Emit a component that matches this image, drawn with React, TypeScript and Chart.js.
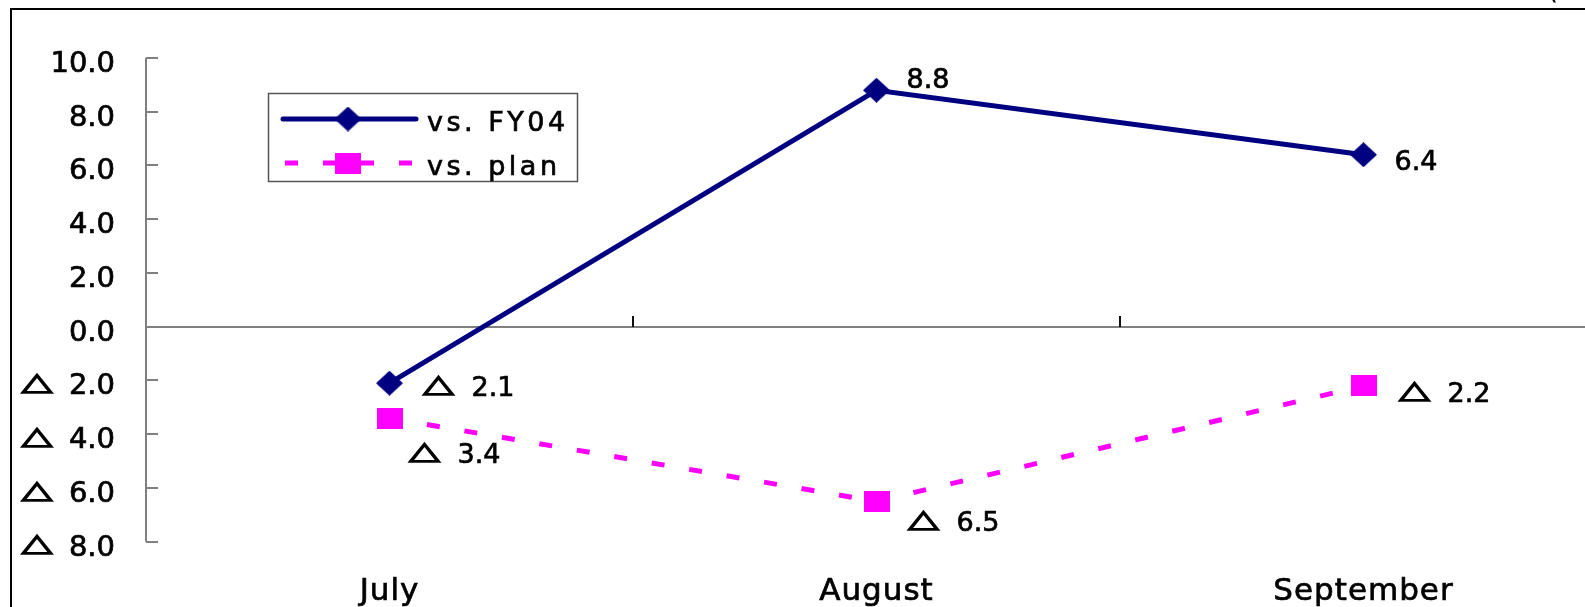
import React, { useEffect, useRef } from 'react';
import { Chart, registerables } from 'chart.js';

Chart.register(...registerables);

// ---- data ----
const months = ['July', 'August', 'September'];
const vsFY04 = [-2.1, 8.8, 6.4];
const vsPlan = [-3.4, -6.5, -2.2];
const seriesNames = ['vs. FY04', 'vs. plan'];
const yTickValues = [10, 8, 6, 4, 2, 0, -2, -4, -6, -8];
const unitLabel = '(%)';

// ---- styling ----
const NAVY = '#000080';
const MAGENTA = '#FF00FF';
const AXIS_GRAY = '#808080';
const FONT = '"DejaVu Sans", "Liberation Sans", sans-serif';
const DASH = [13, 25];
const TEXT_WEIGHT = 0.7; // extra outline width to give text a heavier look

const CANVAS_W = 1640;
const CANVAS_H = 607;
const VIEW_W = 1585;

// value-label placement relative to each point: [dx to text start, dy to baseline]
const fy04LabelOffsets = [
  [33, 13],
  [30, -2],
  [31, 15],
];
const planLabelOffsets = [
  [19, 45],
  [31, 30],
  [35, 16],
];

// width / height of the "△" minus sign and the gap after it
const TRI_W = 32;
const TRI_H = 21;
const TRI_GAP = 17;

function makeDiamond(w: number, h: number, color: string) {
  const c = document.createElement('canvas');
  c.width = w;
  c.height = h;
  const g = c.getContext('2d')!;
  g.fillStyle = color;
  g.beginPath();
  g.moveTo(w / 2, 0);
  g.lineTo(w, h / 2);
  g.lineTo(w / 2, h);
  g.lineTo(0, h / 2);
  g.closePath();
  g.fill();
  return c;
}

function makeSquare(w: number, h: number, color: string) {
  const c = document.createElement('canvas');
  c.width = w;
  c.height = h;
  const g = c.getContext('2d')!;
  g.fillStyle = color;
  g.fillRect(0, 0, w, h);
  return c;
}

function heavyText(ctx: CanvasRenderingContext2D, text: string, x: number, y: number) {
  ctx.fillText(text, x, y);
  ctx.lineWidth = TEXT_WEIGHT;
  ctx.strokeStyle = ctx.fillStyle as string;
  ctx.strokeText(text, x, y);
}

function drawTriangle(ctx: CanvasRenderingContext2D, xLeft: number, baseline: number) {
  ctx.save();
  ctx.font = `26px ${FONT}`;
  ctx.textAlign = 'left';
  ctx.textBaseline = 'alphabetic';
  ctx.fillStyle = '#000';
  ctx.strokeStyle = '#000';
  const m = ctx.measureText('△');
  const inkW = m.actualBoundingBoxLeft + m.actualBoundingBoxRight;
  const inkH = m.actualBoundingBoxAscent + m.actualBoundingBoxDescent;
  const sx = (TRI_W - 1) / inkW;
  const sy = (TRI_H - 1) / inkH;
  ctx.translate(xLeft + 0.5, baseline - 0.5);
  ctx.scale(sx, sy);
  ctx.lineWidth = 1.3;
  ctx.lineJoin = 'miter';
  ctx.fillText('△', m.actualBoundingBoxLeft, -m.actualBoundingBoxDescent);
  ctx.strokeText('△', m.actualBoundingBoxLeft, -m.actualBoundingBoxDescent);
  ctx.restore();
}

function drawValueText(
  ctx: CanvasRenderingContext2D,
  x: number,
  baseline: number,
  v: number,
  size: number,
) {
  ctx.save();
  ctx.fillStyle = '#000';
  ctx.font = `${size}px ${FONT}`;
  ctx.textAlign = 'left';
  ctx.textBaseline = 'alphabetic';
  const num = Math.abs(v).toFixed(1);
  if (v < 0) {
    drawTriangle(ctx, x, baseline);
    heavyText(ctx, num, x + TRI_W + TRI_GAP, baseline);
  } else {
    heavyText(ctx, num, x, baseline);
  }
  ctx.restore();
}

export default function App() {
  const canvasRef = useRef<HTMLCanvasElement | null>(null);

  useEffect(() => {
    const canvas = canvasRef.current;
    if (!canvas) return;

    const diamond = makeDiamond(27, 25, NAVY);
    const square = makeSquare(26, 21, MAGENTA);

    const axesPlugin = {
      id: 'axesFrame',
      beforeDraw(chart: any) {
        // slightly spaced category labels
        (chart.ctx as any).letterSpacing = '1px';
      },
      beforeDatasetsDraw(chart: any) {
        const ctx: CanvasRenderingContext2D = chart.ctx;
        (ctx as any).letterSpacing = '0px';
        const { top, bottom, left, right } = chart.chartArea;
        const ys = chart.scales.y;
        const xs = chart.scales.x;
        ctx.save();

        // outer frame
        ctx.strokeStyle = '#000';
        ctx.lineWidth = 2;
        ctx.strokeRect(11, 9, CANVAS_W - 22, CANVAS_H + 40);

        // y axis line + inward ticks
        ctx.strokeStyle = AXIS_GRAY;
        ctx.lineWidth = 2;
        ctx.beginPath();
        ctx.moveTo(left, top);
        ctx.lineTo(left, bottom);
        ctx.stroke();
        ys.ticks.forEach((t: any) => {
          const py = Math.round(ys.getPixelForValue(t.value));
          ctx.beginPath();
          ctx.moveTo(left, py);
          ctx.lineTo(left + 12, py);
          ctx.stroke();
        });

        // zero line across the plot
        const y0 = Math.round(ys.getPixelForValue(0));
        ctx.beginPath();
        ctx.moveTo(left, y0);
        ctx.lineTo(right, y0);
        ctx.stroke();

        // category boundary ticks on the zero line
        ctx.strokeStyle = '#111';
        ctx.lineWidth = 2;
        for (let i = 0; i < months.length - 1; i++) {
          const bx = Math.round((xs.getPixelForValue(i) + xs.getPixelForValue(i + 1)) / 2);
          ctx.beginPath();
          ctx.moveTo(bx, y0);
          ctx.lineTo(bx, y0 - 11);
          ctx.stroke();
        }

        // y tick labels
        ys.ticks.forEach((t: any) => {
          const py = ys.getPixelForValue(t.value);
          const v = t.value as number;
          ctx.fillStyle = '#000';
          ctx.font = `29px ${FONT}`;
          ctx.textAlign = 'right';
          ctx.textBaseline = 'alphabetic';
          heavyText(ctx, Math.abs(v).toFixed(1), 115, py + 14);
          if (v < 0) drawTriangle(ctx, 21, py + 14);
        });

        // unit label, sitting above the frame
        ctx.fillStyle = '#000';
        ctx.font = `29px ${FONT}`;
        ctx.textAlign = 'left';
        ctx.fillText(unitLabel, 1547, -1);

        ctx.restore();
      },
      afterDatasetsDraw(chart: any) {
        const ctx: CanvasRenderingContext2D = chart.ctx;
        ctx.save();

        // value labels
        const offsets = [fy04LabelOffsets, planLabelOffsets];
        chart.data.datasets.forEach((ds: any, di: number) => {
          const meta = chart.getDatasetMeta(di);
          meta.data.forEach((pt: any, i: number) => {
            const [dx, dy] = offsets[di][i];
            drawValueText(ctx, pt.x + dx, pt.y + dy, ds.data[i], 27);
          });
        });

        // legend box
        ctx.strokeStyle = '#555';
        ctx.lineWidth = 1.5;
        ctx.strokeRect(268.5, 93.5, 309, 88);

        const rows = [
          { y: 119, color: NAVY, dash: [] as number[], marker: diamond, cap: 'round' },
          { y: 163, color: MAGENTA, dash: DASH, marker: square, cap: 'butt' },
        ];
        rows.forEach((r, i) => {
          ctx.strokeStyle = r.color;
          ctx.lineWidth = 5;
          ctx.lineCap = r.cap as CanvasLineCap;
          ctx.setLineDash(r.dash);
          ctx.beginPath();
          ctx.moveTo(i === 0 ? 283 : 285, r.y);
          ctx.lineTo(i === 0 ? 416 : 413, r.y);
          ctx.stroke();
          ctx.setLineDash([]);
          ctx.lineCap = 'butt';
          ctx.drawImage(r.marker, 348 - r.marker.width / 2, r.y - r.marker.height / 2);

          ctx.fillStyle = '#000';
          ctx.font = `27px ${FONT}`;
          (ctx as any).letterSpacing = '3.5px';
          ctx.textAlign = 'left';
          ctx.textBaseline = 'alphabetic';
          heavyText(ctx, seriesNames[i], 427, r.y + 12);
          (ctx as any).letterSpacing = '0px';
        });

        ctx.restore();
      },
    };

    const chart = new Chart(canvas, {
      type: 'line',
      data: {
        labels: months,
        datasets: [
          {
            label: seriesNames[0],
            data: vsFY04,
            borderColor: NAVY,
            backgroundColor: NAVY,
            borderWidth: 5,
            pointStyle: diamond as any,
            tension: 0,
            fill: false,
          },
          {
            label: seriesNames[1],
            data: vsPlan,
            borderColor: MAGENTA,
            backgroundColor: MAGENTA,
            borderWidth: 5,
            borderDash: DASH,
            pointStyle: square as any,
            tension: 0,
            fill: false,
          },
        ],
      },
      options: {
        responsive: false,
        animation: false,
        devicePixelRatio: 1,
        layout: { padding: { top: 58, right: 33, left: 0, bottom: 0 } },
        plugins: {
          legend: { display: false },
          tooltip: { enabled: false },
        },
        scales: {
          x: {
            type: 'category',
            offset: true,
            grid: { display: false, drawTicks: false },
            border: { display: false },
            ticks: {
              color: '#000',
              font: { family: FONT, size: 31 },
              padding: 32,
              maxRotation: 0,
              textStrokeColor: '#000',
              textStrokeWidth: TEXT_WEIGHT,
            },
            afterFit: (s: any) => {
              s.height = CANVAS_H - 541.7;
            },
          },
          y: {
            min: -8,
            max: 10,
            grid: { display: false, drawTicks: false },
            border: { display: false },
            ticks: { display: false },
            afterBuildTicks: (s: any) => {
              s.ticks = yTickValues.map((v) => ({ value: v }));
            },
            afterFit: (s: any) => {
              s.width = 146;
            },
          },
        },
      } as any,
      plugins: [axesPlugin],
    });

    return () => chart.destroy();
  }, []);

  return (
    <div
      style={{
        position: 'absolute',
        left: 0,
        top: 0,
        width: VIEW_W,
        height: CANVAS_H,
        overflow: 'hidden',
        background: '#fff',
      }}
    >
      <canvas
        ref={canvasRef}
        width={CANVAS_W}
        height={CANVAS_H}
        style={{ display: 'block', width: CANVAS_W, height: CANVAS_H }}
      />
    </div>
  );
}
